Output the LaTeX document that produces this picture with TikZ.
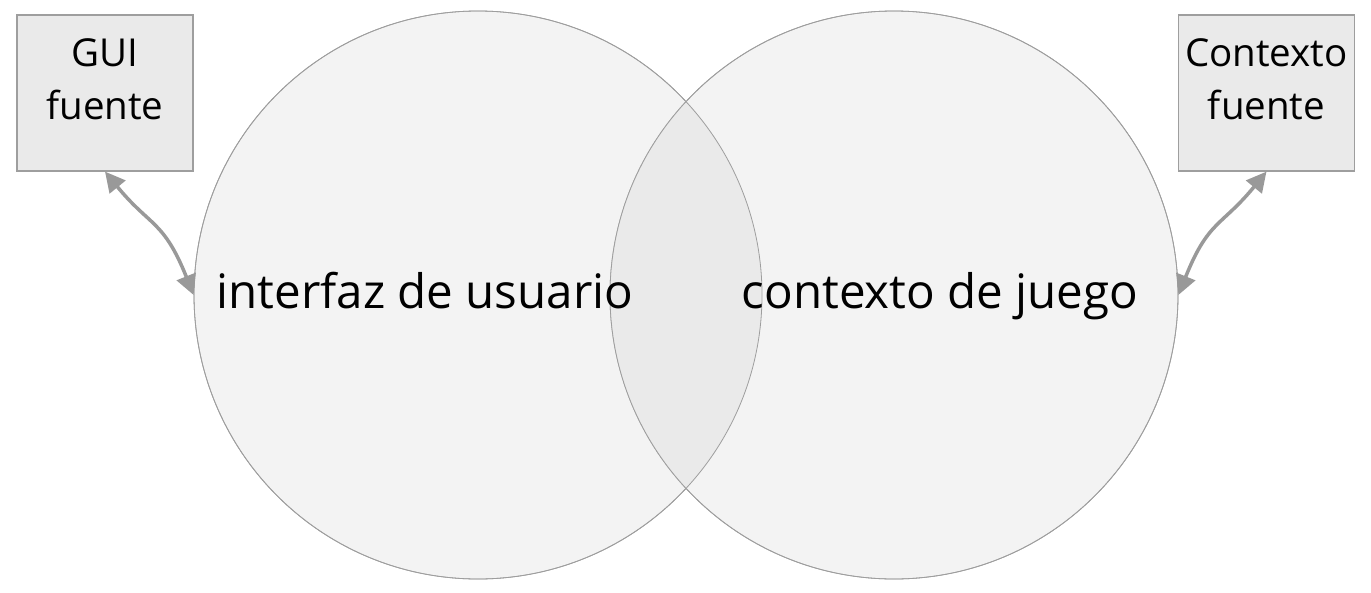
\documentclass[tikz,border=0pt]{standalone}
\usepackage{fontspec}
\setmainfont{Open Sans}
\usetikzlibrary{arrows.meta}
\definecolor{circlefill}{HTML}{F3F3F3}
\definecolor{lensfill}{HTML}{EAEAEA}
\definecolor{edgegray}{HTML}{9E9E9E}
\definecolor{arrowgray}{HTML}{999999}
\newcommand*\circleradius{284pt}
\tikzset{
    setcircle/.style={
        circle,
        draw=edgegray,
        line width=0.8pt,
        minimum size=2*\circleradius,
        inner sep=0pt
    },
    srcbox/.style={
        rectangle,
        draw=edgegray,
        line width=1.2pt,
        fill=lensfill,
        minimum width=176pt,
        minimum height=156pt,
        inner sep=0pt
    },
    boxtext/.style={
        font=\fontsize{38.5}{53}\selectfont,
        align=center,
        anchor=north,
        inner sep=0pt
    },
    bigtext/.style={
        font=\fontsize{47.5}{56}\selectfont,
        anchor=base,
        inner sep=0pt
    },
    link/.style={
        draw=arrowgray,
        line width=3.5pt,
        {Triangle[length=20pt,width=20pt]}-{Triangle[length=20pt,width=20pt]}
    }
}

\begin{document}
\begin{tikzpicture}[x=1pt,y=-1pt]
    \useasboundingbox (0,0) rectangle (1371,592);

    % The two sets.
    \node[setcircle,fill=circlefill] (uicircle) at (478,295) {};
    \node[setcircle,fill=circlefill] (gamecircle) at (894,295) {};

    % Shade the overlap, then put the outlines back on top.
    \begin{scope}
        \clip (478,295) circle (\circleradius);
        \fill[lensfill] (894,295) circle (\circleradius);
    \end{scope}
    \draw[edgegray,line width=0.8pt] (478,295) circle (\circleradius);
    \draw[edgegray,line width=0.8pt] (894,295) circle (\circleradius);

    \node[bigtext] (uitext) at (425,308) {interfaz de usuario};
    \node[bigtext] (gametext) at (940,308) {contexto de juego};

    % Source boxes in the corners.
    \node[srcbox] (guibox) at (105,93) {};
    \node[boxtext] (guitext) at (105,38) {GUI\\fuente};
    \node[srcbox] (ctxbox) at (1266.5,93) {};
    \node[boxtext] (ctxtext) at (1266.5,38) {Contexto\\fuente};

    % Wavy links from the boxes to the circles.
    \draw[link] (uicircle.west) .. controls +(-30,-75) and +(45,55) .. (guibox.south);
    \draw[link] (gamecircle.east) .. controls +(30,-75) and +(-45,55) .. (ctxbox.south);

\end{tikzpicture}
\end{document}
